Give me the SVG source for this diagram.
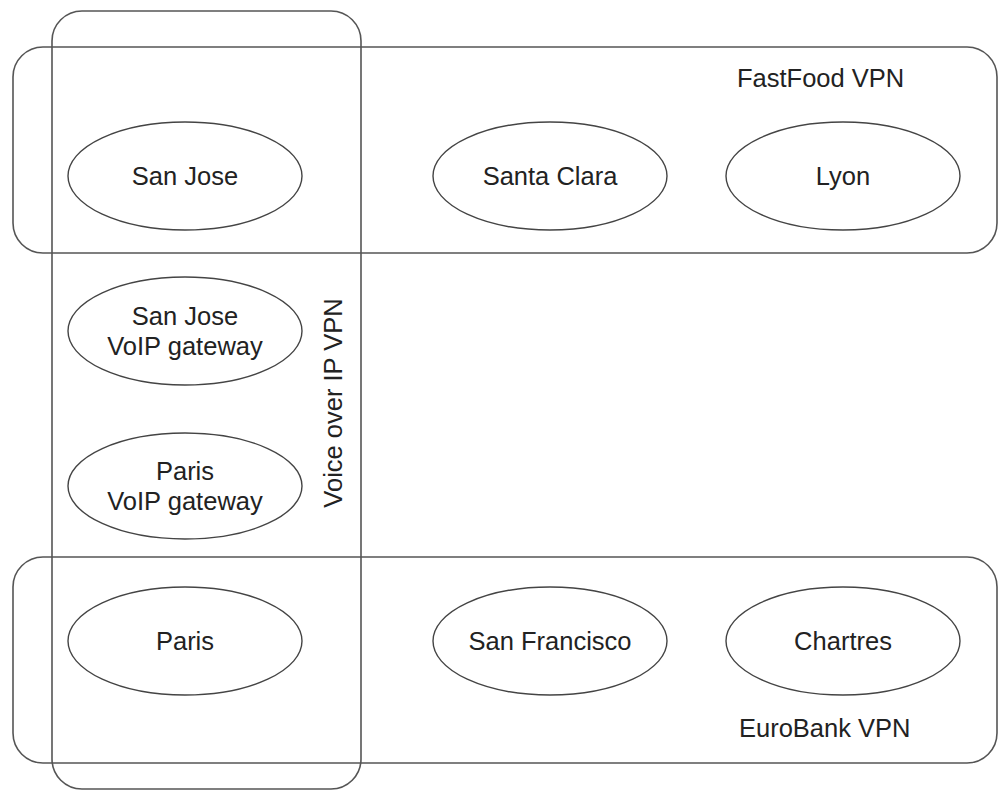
<svg xmlns="http://www.w3.org/2000/svg" width="998" height="791" viewBox="0 0 998 791">
<style>
.box{fill:none;stroke:#555;stroke-width:1.6}
.node{fill:none;stroke:#444;stroke-width:1.4}
text{font-family:"Liberation Sans",Arial,sans-serif;font-size:25.5px;fill:#222;text-anchor:middle}
.lbl{text-anchor:start}
</style>
<rect width="998" height="791" fill="#fff"/>
<g id="fastfood-vpn">
<rect class="box" x="13" y="47" width="984" height="206" rx="30" ry="30"/>
<text class="lbl" x="737" y="87">FastFood VPN</text>
</g>
<g id="eurobank-vpn">
<rect class="box" x="13" y="557" width="984" height="206" rx="30" ry="30"/>
<text class="lbl" x="739" y="737">EuroBank VPN</text>
</g>
<g id="voip-vpn">
<rect class="box" x="52" y="11" width="309" height="778" rx="30" ry="30"/>
<text transform="translate(342,403) rotate(-90)">Voice over IP VPN</text>
</g>
<g id="connectors"></g>
<g id="san-jose">
<ellipse class="node" cx="185" cy="176" rx="117" ry="54"/>
<text x="185" y="185">San Jose</text>
</g>
<g id="santa-clara">
<ellipse class="node" cx="550" cy="176" rx="117" ry="54"/>
<text x="550" y="185">Santa Clara</text>
</g>
<g id="lyon">
<ellipse class="node" cx="843" cy="176" rx="117" ry="54"/>
<text x="843" y="185">Lyon</text>
</g>
<g id="san-jose-voip">
<ellipse class="node" cx="185" cy="331" rx="117" ry="54"/>
<text x="185" y="325">San Jose</text>
<text x="185" y="355">VoIP gateway</text>
</g>
<g id="paris-voip">
<ellipse class="node" cx="185" cy="486" rx="117" ry="53"/>
<text x="185" y="480">Paris</text>
<text x="185" y="510">VoIP gateway</text>
</g>
<g id="paris">
<ellipse class="node" cx="185" cy="641" rx="117" ry="54"/>
<text x="185" y="650">Paris</text>
</g>
<g id="san-francisco">
<ellipse class="node" cx="550" cy="641" rx="117" ry="54"/>
<text x="550" y="650">San Francisco</text>
</g>
<g id="chartres">
<ellipse class="node" cx="843" cy="641" rx="117" ry="54"/>
<text x="843" y="650">Chartres</text>
</g>
</svg>
